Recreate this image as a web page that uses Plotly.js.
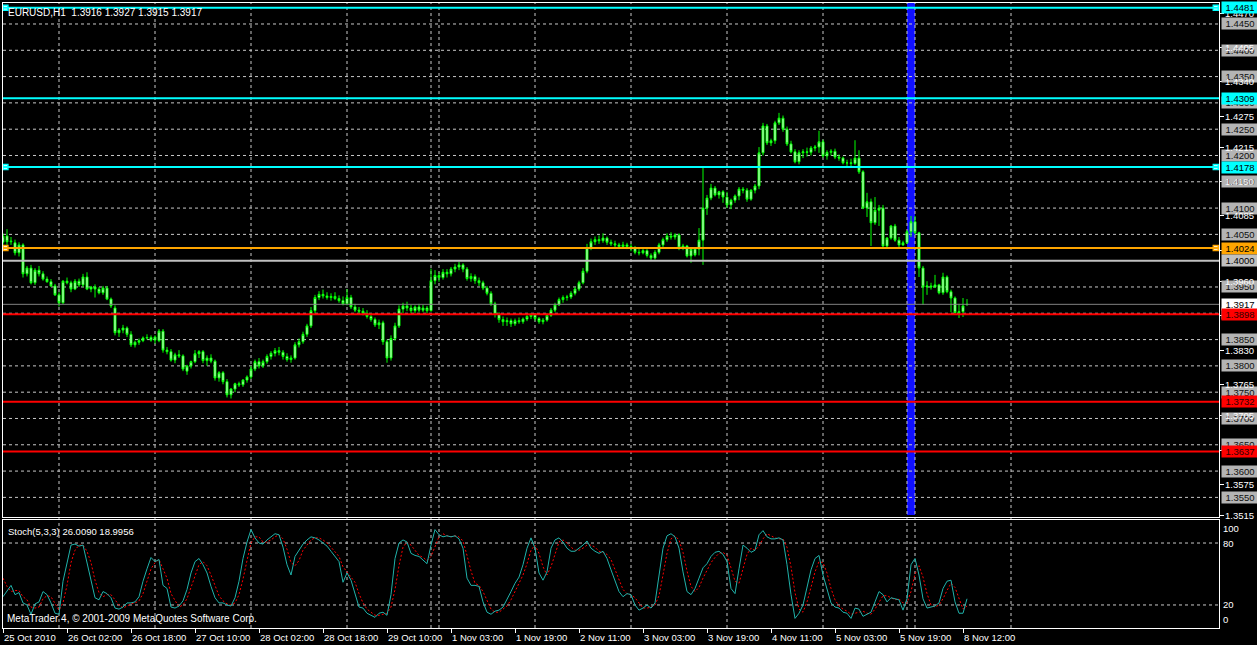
<!DOCTYPE html>
<html><head><meta charset="utf-8">
<script src="https://cdn.plot.ly/plotly-3.0.1.min.js"></script>
<style>html,body{margin:0;padding:0;background:#000;}#chart{width:1257px;height:645px;}</style>
</head><body><div id="chart"></div>
<script>
// ---- data (EURUSD H1, bar index 0 = 25 Oct 2010 10:00) ----
const openP = [
1.4035,1.4047,1.4036,1.4034,1.4015,1.4030,1.3975,1.3986,1.3958,1.3982,1.3975,1.3965,1.3960,1.3952,1.3935,1.3920,1.3961,1.3958,1.3946,1.3961,
1.3954,1.3969,1.3946,1.3950,1.3946,1.3939,1.3948,1.3927,1.3910,1.3863,1.3868,1.3872,1.3860,1.3840,1.3845,1.3848,1.3853,1.3854,1.3849,1.3848,
1.3866,1.3830,1.3827,1.3811,1.3821,1.3819,1.3790,1.3800,1.3808,1.3823,1.3827,1.3810,1.3815,1.3809,1.3777,1.3787,1.3770,1.3745,1.3756,1.3766,
1.3764,1.3773,1.3779,1.3794,1.3808,1.3800,1.3808,1.3818,1.3824,1.3829,1.3826,1.3818,1.3812,1.3815,1.3840,1.3846,1.3860,1.3876,1.3905,1.3930,
1.3936,1.3933,1.3930,1.3932,1.3928,1.3924,1.3918,1.3930,1.3912,1.3906,1.3904,1.3900,1.3894,1.3888,1.3878,1.3882,1.3846,1.3815,1.3852,1.3876,
1.3908,1.3914,1.3910,1.3905,1.3912,1.3906,1.3910,1.3905,1.3962,1.3972,1.3968,1.3978,1.3975,1.3984,1.3988,1.3992,1.3984,1.3966,1.3970,1.3962,
1.3958,1.3948,1.3938,1.3918,1.3898,1.3888,1.3884,1.3886,1.3880,1.3886,1.3884,1.3889,1.3894,1.3897,1.3890,1.3884,1.3887,1.3896,1.3906,1.3916,
1.3926,1.3930,1.3931,1.3938,1.3946,1.3958,1.3980,1.4025,1.4036,1.4040,1.4038,1.4043,1.4035,1.4032,1.4030,1.4027,1.4030,1.4027,1.4024,1.4016,
1.4015,1.4019,1.4010,1.4005,1.4016,1.4030,1.4040,1.4047,1.4045,1.4049,1.4024,1.4028,1.4009,1.4022,1.4022,1.4039,1.4100,1.4119,1.4138,1.4125,
1.4131,1.4121,1.4106,1.4115,1.4123,1.4136,1.4134,1.4117,1.4134,1.4142,1.4205,1.4256,1.4224,1.4228,1.4262,1.4271,1.4250,1.4222,1.4207,1.4188,
1.4205,1.4207,1.4206,1.4214,1.4216,1.4226,1.4199,1.4206,1.4208,1.4197,1.4195,1.4186,1.4186,1.4185,1.4195,1.4169,1.4100,1.4112,1.4072,1.4096,
1.4100,1.4028,1.4043,1.4066,1.4039,1.4030,1.4034,1.4055,1.4074,1.4053,1.3986,1.3950,1.3952,1.3950,1.3954,1.3939,1.3969,1.3941,1.3929,1.3901,
1.3903,1.3916];
const highP = [
1.4052,1.4060,1.4045,1.4040,1.4035,1.4033,1.3990,1.3992,1.3986,1.3990,1.3980,1.3970,1.3965,1.3956,1.3940,1.3963,1.3968,1.3962,1.3965,1.3966,
1.3975,1.3978,1.3952,1.3955,1.3950,1.3952,1.3952,1.3930,1.3915,1.3872,1.3878,1.3875,1.3866,1.3848,1.3852,1.3856,1.3860,1.3858,1.3858,1.3870,
1.3870,1.3836,1.3832,1.3825,1.3830,1.3822,1.3802,1.3810,1.3830,1.3830,1.3830,1.3820,1.3822,1.3812,1.3790,1.3790,1.3775,1.3758,1.3768,1.3770,
1.3775,1.3782,1.3800,1.3812,1.3815,1.3812,1.3822,1.3828,1.3834,1.3836,1.3830,1.3824,1.3820,1.3845,1.3852,1.3865,1.3880,1.3912,1.3935,1.3942,
1.3945,1.3940,1.3938,1.3940,1.3934,1.3932,1.3946,1.3935,1.3918,1.3912,1.3910,1.3906,1.3900,1.3892,1.3888,1.3886,1.3850,1.3858,1.3882,1.3915,
1.3920,1.3922,1.3916,1.3915,1.3918,1.3916,1.3914,1.3985,1.3982,1.3978,1.3984,1.3984,1.3988,1.3994,1.3998,1.3995,1.3988,1.3976,1.3974,1.3968,
1.3962,1.3952,1.3942,1.3922,1.3902,1.3894,1.3892,1.3890,1.3890,1.3892,1.3892,1.3897,1.3900,1.3899,1.3893,1.3891,1.3900,1.3910,1.3920,1.3930,
1.3934,1.3935,1.3942,1.3950,1.3962,1.3986,1.4032,1.4042,1.4046,1.4048,1.4052,1.4046,1.4040,1.4038,1.4034,1.4036,1.4034,1.4032,1.4028,1.4022,
1.4024,1.4022,1.4014,1.4020,1.4034,1.4044,1.4052,1.4054,1.4052,1.4052,1.4032,1.4030,1.4025,1.4026,1.4062,1.4180,1.4125,1.4146,1.4142,1.4133,
1.4134,1.4131,1.4118,1.4126,1.4140,1.4140,1.4138,1.4136,1.4146,1.4216,1.4262,1.4260,1.4232,1.4266,1.4281,1.4276,1.4255,1.4228,1.4212,1.4210,
1.4212,1.4215,1.4218,1.4220,1.4247,1.4230,1.4210,1.4212,1.4213,1.4202,1.4198,1.4192,1.4194,1.4229,1.4210,1.4172,1.4129,1.4118,1.4121,1.4106,
1.4106,1.4045,1.4068,1.4070,1.4045,1.4038,1.4058,1.4085,1.4085,1.4055,1.3990,1.3961,1.3958,1.3973,1.3956,1.3977,1.3972,1.3945,1.3932,1.3918,
1.3929,1.3927];
const lowP = [
1.4030,1.4030,1.4030,1.4010,1.4008,1.3968,1.3970,1.3955,1.3954,1.3970,1.3962,1.3958,1.3950,1.3933,1.3913,1.3918,1.3955,1.3940,1.3944,1.3950,
1.3950,1.3944,1.3940,1.3930,1.3936,1.3935,1.3925,1.3910,1.3858,1.3855,1.3862,1.3855,1.3836,1.3835,1.3840,1.3845,1.3850,1.3846,1.3842,1.3845,
1.3825,1.3822,1.3808,1.3805,1.3815,1.3790,1.3783,1.3795,1.3805,1.3815,1.3805,1.3800,1.3805,1.3772,1.3770,1.3765,1.3740,1.3738,1.3750,1.3760,
1.3760,1.3768,1.3775,1.3790,1.3795,1.3796,1.3804,1.3812,1.3818,1.3820,1.3812,1.3808,1.3806,1.3812,1.3835,1.3842,1.3855,1.3872,1.3900,1.3925,
1.3928,1.3926,1.3924,1.3925,1.3920,1.3915,1.3915,1.3908,1.3902,1.3898,1.3896,1.3890,1.3884,1.3874,1.3870,1.3840,1.3806,1.3810,1.3848,1.3872,
1.3900,1.3904,1.3900,1.3900,1.3902,1.3902,1.3900,1.3903,1.3955,1.3960,1.3964,1.3968,1.3970,1.3978,1.3982,1.3978,1.3962,1.3960,1.3956,1.3952,
1.3944,1.3934,1.3914,1.3892,1.3882,1.3876,1.3876,1.3874,1.3876,1.3880,1.3880,1.3885,1.3889,1.3886,1.3880,1.3879,1.3884,1.3893,1.3902,1.3914,
1.3920,1.3924,1.3927,1.3934,1.3942,1.3955,1.3976,1.4020,1.4030,1.4032,1.4034,1.4030,1.4028,1.4026,1.4022,1.4024,1.4022,1.4018,1.4012,1.4010,
1.4012,1.4006,1.4000,1.4002,1.4012,1.4026,1.4036,1.4040,1.4040,1.4020,1.4020,1.4006,1.3996,1.4008,1.4010,1.3992,1.4087,1.4115,1.4122,1.4118,
1.4110,1.4100,1.4098,1.4110,1.4115,1.4128,1.4112,1.4114,1.4128,1.4136,1.4200,1.4220,1.4218,1.4222,1.4258,1.4245,1.4218,1.4204,1.4185,1.4183,
1.4195,1.4198,1.4200,1.4208,1.4205,1.4196,1.4192,1.4200,1.4193,1.4190,1.4183,1.4180,1.4178,1.4182,1.4165,1.4098,1.4083,1.4028,1.4068,1.4066,
1.4026,1.4024,1.4040,1.4036,1.4026,1.4028,1.4032,1.4045,1.4050,1.3969,1.3916,1.3935,1.3945,1.3948,1.3936,1.3935,1.3938,1.3902,1.3899,1.3891,
1.3893,1.3915];
const closeP = [
1.4047,1.4036,1.4037,1.4015,1.4030,1.3975,1.3986,1.3958,1.3982,1.3975,1.3965,1.3960,1.3952,1.3935,1.3920,1.3961,1.3958,1.3946,1.3961,1.3954,
1.3969,1.3946,1.3950,1.3946,1.3939,1.3948,1.3927,1.3914,1.3863,1.3868,1.3872,1.3860,1.3840,1.3845,1.3848,1.3853,1.3854,1.3849,1.3855,1.3866,
1.3830,1.3827,1.3811,1.3821,1.3819,1.3794,1.3800,1.3808,1.3823,1.3827,1.3810,1.3815,1.3809,1.3777,1.3787,1.3770,1.3745,1.3756,1.3766,1.3764,
1.3773,1.3779,1.3794,1.3808,1.3800,1.3808,1.3818,1.3824,1.3829,1.3826,1.3818,1.3812,1.3815,1.3840,1.3846,1.3860,1.3876,1.3905,1.3930,1.3936,
1.3933,1.3930,1.3932,1.3928,1.3924,1.3918,1.3930,1.3912,1.3906,1.3904,1.3900,1.3894,1.3888,1.3878,1.3882,1.3846,1.3815,1.3852,1.3876,1.3908,
1.3914,1.3910,1.3905,1.3912,1.3906,1.3910,1.3905,1.3962,1.3972,1.3968,1.3978,1.3975,1.3984,1.3988,1.3992,1.3984,1.3966,1.3970,1.3962,1.3958,
1.3948,1.3938,1.3918,1.3898,1.3888,1.3884,1.3886,1.3880,1.3886,1.3884,1.3889,1.3894,1.3897,1.3890,1.3884,1.3887,1.3896,1.3906,1.3916,1.3926,
1.3930,1.3931,1.3938,1.3946,1.3958,1.3980,1.4025,1.4036,1.4040,1.4038,1.4043,1.4035,1.4032,1.4030,1.4027,1.4030,1.4027,1.4024,1.4016,1.4015,
1.4019,1.4010,1.4005,1.4016,1.4030,1.4040,1.4047,1.4045,1.4049,1.4024,1.4028,1.4009,1.4022,1.4011,1.4039,1.4100,1.4119,1.4138,1.4125,1.4131,
1.4121,1.4106,1.4115,1.4123,1.4136,1.4134,1.4117,1.4134,1.4142,1.4205,1.4256,1.4224,1.4228,1.4262,1.4271,1.4250,1.4222,1.4207,1.4188,1.4205,
1.4207,1.4206,1.4214,1.4216,1.4226,1.4199,1.4206,1.4208,1.4197,1.4195,1.4186,1.4186,1.4185,1.4195,1.4169,1.4100,1.4112,1.4072,1.4096,1.4100,
1.4028,1.4043,1.4066,1.4039,1.4030,1.4034,1.4055,1.4074,1.4053,1.3986,1.3950,1.3952,1.3950,1.3954,1.3939,1.3969,1.3941,1.3929,1.3901,1.3903,
1.3914,1.3917];
const stochK = [
28,33,39,30,32,22,20,11,21,23,33,30,22,12,11,43,62,78,79,77,78,62,43,27,25,33,31,27,17,16,18,22,22,23,28,43,55,66,62,64,
39,36,18,17,19,24,35,51,62,65,59,51,38,27,22,22,20,19,27,43,65,81,93,85,80,79,83,86,89,88,76,59,49,67,73,79,83,86,85,83,
80,77,72,67,62,42,51,44,30,18,17,12,10,8,12,13,10,30,65,80,83,81,70,68,67,63,60,78,93,88,86,87,86,87,84,75,46,39,39,38,
23,13,11,14,15,18,25,33,41,47,59,75,85,75,51,44,52,75,83,85,81,75,72,72,75,78,82,75,72,70,72,65,54,43,33,28,31,30,20,15,
17,20,17,22,49,75,87,89,86,75,52,33,30,36,46,56,60,67,71,72,69,62,36,31,55,78,75,71,73,88,92,86,84,84,85,83,59,30,7,12,
20,38,54,65,68,49,36,22,18,17,13,12,7,17,16,9,11,13,23,33,30,23,27,26,25,15,26,59,65,49,26,17,18,19,22,36,43,44,23,12,
12,26];
const stochD = [
46,38,33,34,34,28,25,18,17,18,26,29,28,21,15,22,39,61,73,78,78,72,61,44,32,28,30,30,25,20,17,19,21,22,24,31,42,55,61,64,
55,46,31,24,18,20,26,37,49,59,62,58,49,39,29,24,21,20,22,30,45,63,80,86,86,81,81,83,86,88,84,74,61,58,63,73,78,83,85,85,
83,80,76,72,67,57,52,46,42,31,22,16,13,10,10,11,12,18,35,58,76,81,78,73,68,66,63,67,77,86,89,87,86,87,86,82,68,53,41,39,
33,25,16,13,13,16,19,25,33,40,49,60,73,78,70,57,49,57,70,81,83,80,76,73,73,75,78,78,76,72,71,69,64,54,43,35,31,30,27,22,
17,17,18,20,29,49,70,84,87,83,71,53,38,33,37,46,54,61,66,70,71,68,56,43,41,55,69,75,73,77,84,89,87,85,84,84,76,57,32,16,
13,23,37,52,62,61,51,36,25,19,16,14,11,12,13,14,12,11,16,23,29,29,27,25,26,22,22,33,50,58,47,31,20,18,20,26,34,41,37,26,
16,19];

const xTickBars   = [0,16,32,48,64,80,96,112,128,144,160,176,192,208,224,240];
const xTickLabels = ["25 Oct 2010","26 Oct 02:00","26 Oct 18:00","27 Oct 10:00","28 Oct 02:00","28 Oct 18:00","29 Oct 10:00","1 Nov 03:00","1 Nov 19:00","2 Nov 11:00","3 Nov 03:00","3 Nov 19:00","4 Nov 11:00","5 Nov 03:00","5 Nov 19:00","8 Nov 12:00"];
const daySeparators = [14,38,62,86,107,109,133,157,181,205,226,228,252];

const priceAxisLabels = [1.4470,1.4405,1.4340,1.4275,1.4215,1.4150,1.4085,1.4020,1.3960,1.3895,1.3830,1.3765,1.3705,1.3640,1.3575,1.3515];
const gridLevels = [1.4450,1.4400,1.4350,1.4300,1.4250,1.4200,1.4150,1.4100,1.4050,1.3950,1.3900,1.3850,1.3800,1.3750,1.3700,1.3650,1.3600,1.3550];
const lineLevels = [1.4481,1.4309,1.4178,1.4024,1.4000,1.3917,1.3898,1.3732,1.3637];
const lineColors = ["#00ffff","#00ffff","#00ffff","#ffa500","#c0c0c0","#808080","#ff0000","#ff0000","#ff0000"];
const lineWidths = [2,2,2,2,2,1,2,2,2];
const lineLabelBg   = ["#00ffff","#00ffff","#00ffff","#ffa500","#c0c0c0","#ffffff","#ff0000","#ff0000","#ff0000"];
const lineLabelText = ["#000000","#000000","#000000","#000000","#000000","#000000","#300000","#300000","#300000"];
const lineEndMarks  = [true,false,true,true,false,false,false,false,false];
const highlightBars = [226,228];
const stochLevels = [80,20];

const symbolInfo = "EURUSD,H1  1.3916 1.3927 1.3915 1.3917";
const stochInfo  = "Stoch(5,3,3) 26.0090 18.9956";
const copyright  = "MetaTrader 4, © 2001-2009 MetaQuotes Software Corp.";

// ---- build ----
const idx = closeP.map((_, i) => i);
const XMAX = 304;
const FONT = "Liberation Sans, Arial, sans-serif";
const grid = "rgb(200,200,200)";

const traces = [
  {type:'candlestick', x:idx, open:openP, high:highP, low:lowP, close:closeP,
   xaxis:'x', yaxis:'y', whiskerwidth:0, hoverinfo:'skip',
   increasing:{line:{color:'#00ff00',width:1}, fillcolor:'#ffffff'},
   decreasing:{line:{color:'#00ff00',width:1}, fillcolor:'#ffffff'}},
  {type:'scatter', mode:'lines', x:idx, y:stochD, xaxis:'x2', yaxis:'y2',
   line:{color:'#ff0000', width:1, dash:'2px,2px'}, hoverinfo:'skip'},
  {type:'scatter', mode:'lines', x:idx, y:stochK, xaxis:'x2', yaxis:'y2',
   line:{color:'#20b2aa', width:1}, hoverinfo:'skip'}
];

const mx = [], my = [], mc = [];
lineLevels.forEach((p, i) => { if (lineEndMarks[i]) { mx.push(0.6, XMAX - 0.8); my.push(p, p); mc.push(lineColors[i], lineColors[i]); } });
traces.push({type:'scatter', mode:'markers', x:mx, y:my, xaxis:'x', yaxis:'y', hoverinfo:'skip',
  marker:{symbol:'square', size:5, color:'#ffffff', line:{color:mc, width:1.5}}});

const shapes = [];
shapes.push({type:'rect', xref:'x', yref:'paper', x0:highlightBars[0], x1:highlightBars[1], y0:0.181, y1:1,
  fillcolor:'#1010ff', line:{width:0}, layer:'below'});
gridLevels.forEach(p => shapes.push({type:'line', xref:'paper', yref:'y', x0:0, x1:1, y0:p, y1:p,
  line:{color:grid, width:1, dash:'3px,3px'}, layer:'below'}));
daySeparators.forEach(b => shapes.push({type:'line', xref:'x', yref:'paper', x0:b, x1:b, y0:0, y1:1,
  line:{color:grid, width:1, dash:'3px,3px'}, layer:'below'}));
stochLevels.forEach(v => shapes.push({type:'line', xref:'paper', yref:'y2', x0:0, x1:1, y0:v, y1:v,
  line:{color:grid, width:1, dash:'3px,3px'}, layer:'below'}));
lineLevels.forEach((p, i) => shapes.push({type:'line', xref:'paper', yref:'y', x0:0, x1:1, y0:p, y1:p,
  line:{color:lineColors[i], width:lineWidths[i]}, layer:'above'}));

const ann = [];
const fs = 9.5;
gridLevels.forEach(p => ann.push({xref:'paper', yref:'y', x:1, y:p, xanchor:'left', yanchor:'middle', xshift:2,
  text:p.toFixed(4), showarrow:false, bgcolor:'#b4b4b4', width:36, height:11, borderpad:0, align:'center',
  font:{family:FONT, size:fs, color:'#101010'}}));
priceAxisLabels.forEach(p => ann.push({xref:'paper', yref:'y', x:1, y:p, xanchor:'left', yanchor:'middle', xshift:5,
  text:p.toFixed(4), showarrow:false, borderpad:0, font:{family:FONT, size:fs, color:'#ffffff'}}));
lineLevels.forEach((p, i) => ann.push({xref:'paper', yref:'y', x:1, y:p, xanchor:'left', yanchor:'middle', xshift:2,
  text:p.toFixed(4), showarrow:false, bgcolor:lineLabelBg[i], width:36, height:11, borderpad:0, align:'center',
  font:{family:FONT, size:fs, color:lineLabelText[i]}}));
xTickBars.forEach((b, i) => ann.push({xref:'x2', yref:'paper', x:b, y:0, xanchor:'left', yanchor:'top', yshift:-3, xshift:0,
  text:xTickLabels[i], showarrow:false, borderpad:0, font:{family:FONT, size:fs, color:'#ffffff'}}));
ann.push({xref:'paper', yref:'y2 domain', x:1, y:1, xanchor:'left', yanchor:'top', xshift:3, yshift:-2, text:'100', showarrow:false, borderpad:0, font:{family:FONT, size:fs, color:'#ffffff'}});
stochLevels.forEach(v => ann.push({xref:'paper', yref:'y2', x:1, y:v, xanchor:'left', yanchor:'middle', xshift:3, text:String(v), showarrow:false, borderpad:0, font:{family:FONT, size:fs, color:'#ffffff'}}));
ann.push({xref:'paper', yref:'y2 domain', x:1, y:0, xanchor:'left', yanchor:'bottom', xshift:3, yshift:2, text:'0', showarrow:false, borderpad:0, font:{family:FONT, size:fs, color:'#ffffff'}});
ann.push({xref:'paper', yref:'paper', x:0, y:1, xanchor:'left', yanchor:'top', xshift:4, yshift:-3, text:symbolInfo, showarrow:false, borderpad:0, font:{family:FONT, size:fs+0.5, color:'#ffffff'}});
ann.push({xref:'paper', yref:'y2 domain', x:0, y:1, xanchor:'left', yanchor:'top', xshift:4, yshift:-5, text:stochInfo, showarrow:false, borderpad:0, font:{family:FONT, size:fs, color:'#ffffff'}});
ann.push({xref:'paper', yref:'y2 domain', x:0, y:0, xanchor:'left', yanchor:'bottom', xshift:3, yshift:3, text:copyright, showarrow:false, borderpad:0, font:{family:FONT, size:fs+0.5, color:'#ffffff'}});

const axBase = {showgrid:false, zeroline:false, showline:true, mirror:true, linecolor:'#ffffff', linewidth:1};
const layout = {
  width:1257, height:645, paper_bgcolor:'#000000', plot_bgcolor:'#000000',
  margin:{l:3, r:38, t:3, b:17}, showlegend:false, dragmode:false,
  xaxis:Object.assign({}, axBase, {domain:[0,1], anchor:'y', range:[0,XMAX], showticklabels:false, ticks:'', rangeslider:{visible:false}}),
  yaxis:Object.assign({}, axBase, {domain:[0.1776,1], anchor:'x', side:'right', range:[1.35127,1.44899],
    tickvals:priceAxisLabels, ticks:'outside', ticklen:4, tickcolor:'#ffffff', showticklabels:false}),
  xaxis2:Object.assign({}, axBase, {domain:[0,1], anchor:'y2', range:[0,XMAX], tickvals:xTickBars, ticks:'outside', ticklen:4, tickcolor:'#ffffff', showticklabels:false}),
  yaxis2:Object.assign({}, axBase, {domain:[0,0.1728], anchor:'x2', side:'right', range:[-2.3,102.3], ticks:'', showticklabels:false}),
  shapes:shapes, annotations:ann
};
Plotly.newPlot('chart', traces, layout, {displayModeBar:false, staticPlot:true});
</script></body></html>
